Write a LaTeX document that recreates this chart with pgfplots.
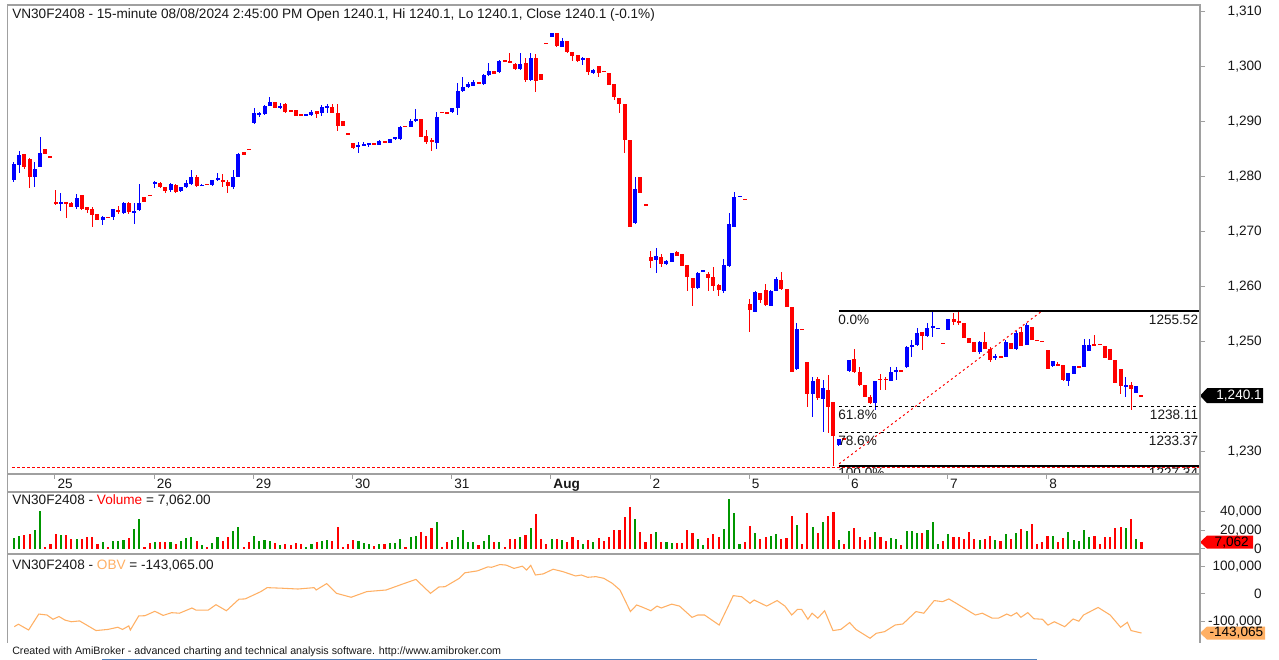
\documentclass[border=0pt]{standalone}
\usepackage{pgfplots}
\pgfplotsset{compat=1.18}
\usepackage{pgfplotstable}
\usepackage{fontspec}
\setmainfont{Liberation Sans}
\definecolor{cblue}{RGB}{0,0,255}
\definecolor{cred}{RGB}{255,0,0}
\definecolor{vgreen}{RGB}{0,150,0}
\definecolor{vred}{RGB}{255,0,0}
\definecolor{obvc}{RGB}{255,176,100}
\definecolor{frame}{RGB}{160,160,160}
\definecolor{txt}{RGB}{25,25,25}
\definecolor{steel}{RGB}{79,129,189}
\newcommand\lab{\fontsize{10.2pt}{12pt}\selectfont}

\pgfplotstableread{
i o h l c
-8 1279.4 1282.7 1279.1 1282.4
-7 1282.1 1284.6 1280.6 1283.95
-6 1284.1 1284.1 1281.5 1281.8
-5 1283.2 1283.35 1277.9 1280.0
-4 1279.9 1282.7 1278.2 1281.5
-3 1281.8 1287.3 1281.7 1284.3
-2 1285.0 1285.0 1284.1 1284.1
-1 1283.6 1283.6 1283.6 1283.6
0 1275.45 1277.6 1274.8 1275.0
1 1275.0 1277.0 1273.8 1275.45
2 1275.45 1275.45 1272.4 1275.1
3 1275.15 1275.45 1274.4 1274.5
4 1274.4 1276.85 1274.05 1276.05
5 1276.65 1276.65 1274.0 1274.2
6 1274.4 1274.5 1273.3 1273.9
7 1274.2 1274.4 1270.8 1273.0
8 1273.2 1273.3 1272.1 1272.1
9 1272.2 1272.8 1271.2 1272.7
10 1272.6 1272.6 1272.6 1272.6
11 1272.6 1274.2 1272.1 1274.05
12 1273.9 1274.65 1273.3 1273.6
13 1273.45 1275.45 1273.3 1275.3
14 1275.3 1275.45 1273.3 1273.6
15 1273.5 1275.15 1271.4 1273.8
16 1273.9 1278.7 1273.8 1275.15
17 1276.25 1276.25 1275.45 1275.45
18 1276.65 1276.65 1276.65 1276.65
19 1278.65 1279.3 1277.9 1279.1
20 1278.9 1279.1 1277.9 1278.2
21 1278.1 1278.1 1277.0 1277.45
22 1277.6 1278.8 1277.3 1278.65
23 1278.5 1278.6 1277.1 1277.3
24 1277.45 1278.2 1277.3 1278.2
25 1278.1 1279.4 1277.9 1278.8
26 1278.65 1281.2 1278.5 1280.0
27 1280.0 1280.3 1278.2 1278.3
28 1278.4 1278.6 1278.3 1278.5
29 1278.65 1278.65 1278.65 1278.65
30 1278.5 1279.4 1278.3 1279.4
31 1279.5 1280.7 1279.3 1279.7
32 1279.4 1280.5 1278.2 1279.1
33 1279.1 1279.4 1277.1 1278.3
34 1278.1 1281.2 1277.7 1280.0
35 1280.0 1284.4 1279.9 1284.1
36 1284.5 1284.5 1284.0 1284.0
37 1285.0 1285.0 1285.0 1285.0
38 1289.85 1292.45 1289.7 1291.55
39 1291.3 1291.85 1290.8 1291.55
40 1291.4 1293.05 1291.2 1292.9
41 1292.9 1294.6 1292.8 1293.6
42 1293.6 1293.6 1292.5 1292.6
43 1292.6 1293.4 1292.4 1292.9
44 1293.25 1293.4 1291.7 1291.85
45 1292.15 1292.15 1291.7 1291.7
46 1292.15 1292.15 1291.05 1291.05
47 1291.4 1291.4 1291.2 1291.2
48 1291.2 1291.5 1291.1 1291.35
49 1291.3 1292.1 1291.1 1291.85
50 1291.95 1291.95 1290.6 1291.4
51 1291.55 1293.05 1291.05 1292.75
52 1292.6 1293.25 1291.55 1292.9
53 1292.75 1293.25 1291.55 1291.55
54 1291.55 1293.25 1288.4 1289.25
55 1290.2 1290.2 1289.25 1289.25
56 1287.8 1287.8 1287.8 1287.8
57 1286.2 1286.2 1285.0 1285.2
58 1285.4 1286.4 1284.3 1285.7
59 1285.7 1286.4 1285.5 1286.0
60 1285.9 1286.2 1285.4 1286.1
61 1286.1 1286.1 1285.9 1285.9
62 1285.8 1286.7 1285.7 1286.55
63 1286.6 1286.6 1286.2 1286.2
64 1286.2 1286.9 1286.1 1286.8
65 1286.8 1287.2 1286.7 1287.2
66 1286.8 1289.2 1286.7 1289.1
67 1289.2 1289.2 1289.2 1289.2
68 1289.1 1290.6 1289.0 1290.2
69 1290.2 1292.3 1290.0 1290.45
70 1290.45 1290.45 1287.2 1287.3
71 1287.4 1288.5 1286.0 1286.4
72 1286.7 1287.0 1284.75 1286.4
73 1286.1 1291.7 1285.0 1290.9
74 1291.8 1291.8 1291.7 1291.7
75 1291.7 1291.7 1291.7 1291.7
76 1291.8 1292.6 1291.7 1292.6
77 1292.45 1297.0 1291.2 1295.7
78 1295.7 1298.2 1295.5 1296.4
79 1296.3 1297.3 1296.1 1296.9
80 1296.6 1297.6 1296.5 1297.3
81 1297.3 1297.3 1297.0 1297.0
82 1296.9 1298.7 1296.7 1298.5
83 1298.5 1300.8 1298.3 1299.3
84 1299.3 1299.3 1298.8 1298.8
85 1299.1 1301.2 1298.9 1301.1
86 1301.1 1301.1 1301.1 1301.1
87 1301.1 1302.6 1300.65 1300.65
88 1300.5 1300.7 1299.4 1299.7
89 1299.7 1302.5 1299.4 1300.5
90 1300.8 1301.6 1297.3 1297.6
91 1297.6 1302.5 1297.5 1301.55
92 1301.7 1302.35 1295.5 1297.5
93 1298.7 1298.7 1297.6 1297.6
94 1304.3 1304.3 1304.3 1304.3
95 1305.5 1306.1 1305.5 1306.1
96 1306.1 1306.1 1303.7 1303.8
97 1303.7 1305.2 1303.6 1304.8
98 1304.8 1304.8 1302.6 1302.8
99 1302.8 1302.8 1301.0 1302.0
100 1302.2 1302.2 1300.9 1301.1
101 1301.3 1301.8 1300.3 1301.7
102 1301.7 1301.7 1298.5 1299.1
103 1298.8 1299.6 1298.7 1299.5
104 1300.2 1300.2 1298.2 1298.8
105 1299.2 1299.2 1299.2 1299.2
106 1298.95 1298.95 1296.7 1296.7
107 1296.9 1296.9 1294.0 1294.45
108 1294.4 1294.4 1291.55 1293.25
109 1293.2 1293.2 1284.3 1286.7
110 1286.7 1286.7 1270.9 1270.9
111 1271.5 1279.9 1271.4 1277.7
112 1279.9 1279.9 1277.1 1277.1
113 1274.9 1274.9 1274.9 1274.9
114 1265.3 1266.5 1263.3 1264.7
115 1264.8 1267.1 1262.4 1265.55
116 1265.45 1265.9 1263.6 1264.1
117 1264.1 1264.8 1264.0 1264.7
118 1264.55 1266.1 1264.5 1266.05
119 1266.2 1266.5 1265.5 1265.55
120 1265.9 1265.9 1263.7 1263.7
121 1263.9 1263.9 1259.2 1261.7
122 1261.5 1261.5 1256.45 1259.7
123 1259.7 1262.6 1259.6 1262.5
124 1262.85 1262.9 1262.85 1262.9
125 1262.3 1262.7 1259.2 1261.5
126 1261.8 1263.6 1259.2 1260.1
127 1260.3 1260.5 1258.3 1259.4
128 1259.1 1264.95 1258.9 1263.9
129 1263.7 1273.3 1263.6 1271.4
130 1270.9 1277.3 1270.8 1276.4
131 1276.35 1276.45 1276.35 1276.45
132 1275.9 1275.9 1275.9 1275.9
133 1256.9 1257.8 1251.7 1255.8
134 1255.4 1259.1 1255.3 1259.05
135 1258.85 1258.85 1257.0 1257.5
136 1259.35 1260.5 1256.5 1256.6
137 1256.45 1259.3 1256.4 1259.25
138 1259.25 1261.8 1259.2 1261.3
139 1261.2 1262.7 1259.4 1259.5
140 1259.5 1259.5 1256.2 1256.2
141 1256.2 1256.2 1244.5 1244.5
142 1244.9 1253.3 1244.8 1252.2
143 1252.2 1252.2 1252.2 1252.2
144 1246.3 1246.3 1238.1 1240.5
145 1240.5 1243.6 1236.3 1242.7
146 1243.1 1243.6 1239.3 1239.6
147 1239.6 1242.95 1233.55 1241.45
148 1241.1 1243.9 1233.25 1238.1
149 1239.0 1239.0 1227.34 1232.8
150 1231.1 1232.3 1231.0 1232.3
151 1232.3 1232.3 1232.3 1232.3
152 1244.7 1246.7 1244.5 1246.6
153 1246.85 1248.7 1244.2 1244.5
154 1244.5 1245.4 1241.9 1242.05
155 1242.05 1242.05 1239.8 1239.9
156 1239.9 1240.2 1238.6 1238.7
157 1238.7 1242.85 1237.5 1242.85
158 1243.2 1244.1 1241.1 1242.95
159 1243.2 1243.6 1241.1 1242.95
160 1242.85 1245.4 1242.7 1244.5
161 1244.5 1245.4 1242.9 1244.7
162 1244.7 1244.7 1244.7 1244.7
163 1245.3 1249.2 1245.2 1249.05
164 1249.05 1250.25 1247.2 1249.35
165 1249.35 1252.4 1249.2 1251.45
166 1251.8 1251.8 1248.4 1251.0
167 1250.9 1253.4 1250.8 1252.4
168 1252.6 1255.5 1250.9 1252.7
169 1252.35 1252.4 1252.35 1252.4
170 1249.65 1249.65 1249.65 1249.65
171 1252.1 1254.1 1252.0 1254.0
172 1254.0 1255.1 1253.0 1253.6
173 1253.8 1255.5 1253.0 1253.3
174 1253.3 1253.3 1250.7 1250.7
175 1250.7 1250.7 1249.65 1249.65
176 1249.95 1249.95 1248.1 1248.1
177 1248.1 1250.0 1247.8 1249.95
178 1249.95 1251.8 1248.6 1248.7
179 1248.7 1249.0 1246.3 1246.6
180 1246.9 1247.7 1246.6 1247.3
181 1247.3 1247.3 1247.0 1247.0
182 1247.2 1250.25 1247.1 1249.95
183 1249.65 1249.65 1248.55 1248.55
184 1248.55 1251.95 1248.4 1251.6
185 1251.8 1252.7 1249.1 1249.2
186 1249.35 1253.3 1249.3 1253.0
187 1252.6 1252.6 1250.25 1250.25
188 1250.3 1250.3 1250.1 1250.1
189 1250.0 1250.0 1250.0 1250.0
190 1248.4 1248.4 1244.9 1244.9
191 1245.5 1246.5 1245.4 1246.4
192 1245.85 1246.2 1245.7 1245.7
193 1245.7 1245.7 1242.85 1242.95
194 1242.85 1244.3 1241.9 1244.2
195 1244.1 1245.6 1244.0 1245.5
196 1245.5 1245.5 1245.3 1245.3
197 1245.3 1250.4 1245.3 1249.35
198 1248.3 1250.4 1248.2 1249.35
199 1249.5 1251.2 1249.2 1249.2
200 1249.5 1249.5 1249.5 1249.5
201 1249.2 1249.2 1246.9 1246.9
202 1248.7 1248.7 1246.6 1246.7
203 1246.6 1246.6 1242.5 1242.5
204 1244.9 1244.9 1240.5 1241.9
205 1241.8 1243.45 1239.8 1242.1
206 1242.05 1242.65 1237.6 1241.3
207 1240.7 1241.9 1240.6 1241.9
208 1240.1 1240.1 1240.1 1240.1
}\candles

\pgfplotstableread{
i v u
-8 11.5 1
-7 14.1 1
-6 14.8 0
-5 15.9 0
-4 20.2 1
-3 40.4 1
-2 2 0
-1 5.1 0
0 15.9 0
1 15.1 1
2 15.1 0
3 10.5 0
4 10.5 1
5 10.8 0
6 13.0 0
7 13.0 0
8 5.1 0
9 6.9 1
10 1.5 0
11 8.7 1
12 8.7 1
13 9.8 1
14 11.2 0
15 21.3 1
16 32.1 1
17 1.5 0
18 5.8 0
19 7.6 1
20 7.6 0
21 7.6 0
22 7.6 1
23 5.1 0
24 8.7 1
25 11.2 1
26 13.0 1
27 8.7 0
28 4.4 1
29 1.5 0
30 5.8 1
31 12.3 1
32 8.7 0
33 12.3 0
34 18.8 1
35 23.8 1
36 1.5 0
37 6.9 0
38 14.1 1
39 8.7 1
40 9.4 1
41 8.7 1
42 5.8 0
43 4.4 1
44 5.1 0
45 4.4 0
46 5.8 0
47 5.1 0
48 1.5 1
49 5.1 1
50 7.6 0
51 8.7 1
52 9.4 1
53 8.7 0
54 23.8 0
55 1.5 0
56 5.1 0
57 9.4 0
58 8.7 1
59 5.8 1
60 5.1 1
61 3.3 0
62 5.1 1
63 5.1 0
64 5.8 1
65 5.8 1
66 10.5 1
67 1.5 0
68 12.3 1
69 14.1 1
70 17.7 0
71 14.1 0
72 22.4 0
73 28.5 1
74 1.5 0
75 7.6 0
76 9.4 1
77 13.0 1
78 20.2 1
79 6.9 1
80 6.9 1
81 4.4 0
82 8.7 1
83 15.1 1
84 6.9 0
85 6.9 1
86 1.5 0
87 10.5 0
88 10.5 0
89 12.3 1
90 15.1 0
91 22 1
92 37.5 0
93 10 0
94 5 0
95 10.1 1
96 10.1 0
97 9.4 1
98 6.8 0
99 12.6 0
100 9.4 0
101 5 1
102 9.4 0
103 7.6 1
104 11.5 0
105 8 0
106 13 0
107 20 0
108 20.2 0
109 34.6 0
110 45.3 0
111 31.7 1
112 18 0
113 6.8 0
114 15.5 0
115 17.7 1
116 6.8 0
117 6.8 1
118 5.8 1
119 5.8 0
120 5.8 0
121 20.2 0
122 16.6 0
123 10.1 1
124 4 1
125 11.2 0
126 15.9 0
127 13 0
128 20.9 1
129 53.3 1
130 38.2 1
131 5 1
132 6.8 0
133 24.9 0
134 16.6 1
135 10.5 0
136 13 0
137 13.7 1
138 15.5 1
139 10.1 0
140 12 0
141 35.3 0
142 25.6 1
143 5 0
144 38.9 0
145 23 1
146 16.6 0
147 28.5 1
148 35.3 0
149 40 0
150 9.4 1
151 5 0
152 19.5 1
153 22 0
154 13 0
155 9.4 0
156 13 0
157 18.4 1
158 13 0
159 8.6 0
160 12 1
161 10.5 1
162 4 0
163 19.5 1
164 18.7 1
165 16.6 1
166 16.6 0
167 20.2 1
168 29.2 1
169 5 1
170 8.6 0
171 15.5 1
172 13 0
173 13 0
174 10.1 0
175 17.7 0
176 10.1 0
177 9.4 1
178 10.1 0
179 14 0
180 9.4 1
181 8 0
182 15.5 1
183 10.5 0
184 16.6 1
185 20.9 0
186 19.1 1
187 26.3 0
188 5 0
189 6.8 0
190 14 0
191 14 1
192 6.8 0
193 11.9 0
194 17.7 1
195 9.4 1
196 8.6 1
197 20.2 1
198 13 1
199 14 0
200 5 0
201 13 0
202 13 0
203 22 0
204 23.8 0
205 22 1
206 31.7 0
207 10 1
208 7.062 0
}\vol

\pgfplotsset{ami/.style={scale only axis, width=894pt, xmin=-9.138, xmax=219.215,
  axis x line=none, axis y line*=right, y axis line style={draw=frame, line width=0.9pt},
  yticklabels={}, tick align=outside, major tick length=3.75pt,
  ytick style={draw=frame, line width=0.75pt}, clip=false},
  bars/.style 2 args={draw=none, mark=none, error bars/.cd, y dir=both, y explicit, error mark=none,
  error bar style={line width=#1, draw=#2}}}
\tikzset{tl/.style={anchor=east, inner sep=0pt, xshift=46.5pt}}

\begin{document}
\begin{tikzpicture}[font=\lab, text=txt]
\fill[white] (0,0) rectangle (959.25pt,495pt);

% ---------------- price pane
\begin{axis}[ami, at={(6pt,126pt)}, anchor=south west, height=365.25pt,
  ymin=1222.568, ymax=1311.275, ytick={1230,1250,1260,1270,1280,1290,1300,1310}]
\addplot[cred, line width=0.75pt, dash pattern=on 2.25pt off 1.5pt] coordinates {(-8.37,1227.1) (219.215,1227.1)};
% wicks
\addplot[bars={0.75pt}{cblue}]
  table[x=i, y expr={\thisrow{c}>\thisrow{o} ? (\thisrow{h}+\thisrow{l})/2 : nan}, y error expr={(\thisrow{h}-\thisrow{l})/2}] {\candles};
\addplot[bars={0.75pt}{cred}]
  table[x=i, y expr={\thisrow{c}>\thisrow{o} ? nan : (\thisrow{h}+\thisrow{l})/2}, y error expr={(\thisrow{h}-\thisrow{l})/2}] {\candles};
% bodies
\addplot[bars={3pt}{cblue}]
  table[x=i, y expr={\thisrow{c}>\thisrow{o} ? (\thisrow{o}+\thisrow{c})/2 : nan}, y error expr={max(abs(\thisrow{c}-\thisrow{o})/2,0.09)}] {\candles};
\addplot[bars={3pt}{cred}]
  table[x=i, y expr={\thisrow{c}>\thisrow{o} ? nan : (\thisrow{o}+\thisrow{c})/2}, y error expr={max(abs(\thisrow{c}-\thisrow{o})/2,0.09)}] {\candles};
% fibonacci
\addplot[black, line width=1.5pt] coordinates {(150.06,1255.52) (219.215,1255.52)};
\addplot[black, line width=0.75pt, dash pattern=on 2.25pt off 2.25pt] coordinates {(150.06,1238.11) (219.215,1238.11)};
\addplot[black, line width=0.75pt, dash pattern=on 2.25pt off 2.25pt] coordinates {(150.06,1233.37) (219.215,1233.37)};
\addplot[black, line width=1.5pt] coordinates {(150.06,1227.34) (219.215,1227.34)};
\addplot[cred, line width=0.75pt, dash pattern=on 1.5pt off 2.25pt] coordinates {(150.1,1227.7) (188.9,1255.5)};
\node[anchor=north west, inner sep=0pt, yshift=-2.6pt] at (axis cs:149.87,1255.52) {0.0\%};
\node[anchor=north west, inner sep=0pt, yshift=-2.6pt] at (axis cs:149.87,1238.11) {61.8\%};
\node[anchor=north west, inner sep=0pt, yshift=-2.6pt] at (axis cs:149.87,1233.37) {78.6\%};
\node[anchor=north east, inner sep=0pt, yshift=-2.6pt] at (axis cs:218.9,1255.52) {1255.52};
\node[anchor=north east, inner sep=0pt, yshift=-2.6pt] at (axis cs:218.9,1238.11) {1238.11};
\node[anchor=north east, inner sep=0pt, yshift=-2.6pt] at (axis cs:218.9,1233.37) {1233.37};
\begin{scope}
\clip (axis cs:140,1225.9) rectangle (axis cs:219.215,1230);
\node[anchor=north west, inner sep=0pt, yshift=-1.2pt] at (axis cs:149.87,1227.34) {100.0\%};
\node[anchor=north east, inner sep=0pt, yshift=-1.2pt] at (axis cs:218.9,1227.34) {1227.34};
\end{scope}
% date strip
\draw[frame, line width=0.9pt] (axis cs:-9.138,1225.85) -- (axis cs:219.215,1225.85);
\draw[frame, line width=0.75pt] (axis cs:-0.15,1225.85) -- (axis cs:-0.15,1224.9);
\draw[frame, line width=0.75pt] (axis cs:18.85,1225.85) -- (axis cs:18.85,1224.9);
\draw[frame, line width=0.75pt] (axis cs:37.85,1225.85) -- (axis cs:37.85,1224.9);
\draw[frame, line width=0.75pt] (axis cs:56.85,1225.85) -- (axis cs:56.85,1224.9);
\draw[frame, line width=0.75pt] (axis cs:75.85,1225.85) -- (axis cs:75.85,1224.9);
\draw[frame, line width=0.75pt] (axis cs:94.85,1225.85) -- (axis cs:94.85,1224.9);
\draw[frame, line width=0.75pt] (axis cs:113.85,1225.85) -- (axis cs:113.85,1224.9);
\draw[frame, line width=0.75pt] (axis cs:132.85,1225.85) -- (axis cs:132.85,1224.9);
\draw[frame, line width=0.75pt] (axis cs:151.85,1225.85) -- (axis cs:151.85,1224.9);
\draw[frame, line width=0.75pt] (axis cs:170.85,1225.85) -- (axis cs:170.85,1224.9);
\draw[frame, line width=0.75pt] (axis cs:189.85,1225.85) -- (axis cs:189.85,1224.9);
\node[anchor=base west, inner sep=0pt, xshift=1.8pt] at (axis cs:-0.15,1223.2) {25};
\node[anchor=base west, inner sep=0pt, xshift=1.8pt] at (axis cs:18.85,1223.2) {26};
\node[anchor=base west, inner sep=0pt, xshift=1.8pt] at (axis cs:37.85,1223.2) {29};
\node[anchor=base west, inner sep=0pt, xshift=1.8pt] at (axis cs:56.85,1223.2) {30};
\node[anchor=base west, inner sep=0pt, xshift=1.8pt] at (axis cs:75.85,1223.2) {31};
\node[anchor=base west, inner sep=0pt, xshift=1.8pt] at (axis cs:94.85,1223.2) {\textbf{Aug}};
\node[anchor=base west, inner sep=0pt, xshift=1.8pt] at (axis cs:113.85,1223.2) {2};
\node[anchor=base west, inner sep=0pt, xshift=1.8pt] at (axis cs:132.85,1223.2) {5};
\node[anchor=base west, inner sep=0pt, xshift=1.8pt] at (axis cs:151.85,1223.2) {6};
\node[anchor=base west, inner sep=0pt, xshift=1.8pt] at (axis cs:170.85,1223.2) {7};
\node[anchor=base west, inner sep=0pt, xshift=1.8pt] at (axis cs:189.85,1223.2) {8};
% tick labels
\node[tl] at (axis cs:219.215,1310) {1,310};
\node[tl] at (axis cs:219.215,1300) {1,300};
\node[tl] at (axis cs:219.215,1290) {1,290};
\node[tl] at (axis cs:219.215,1280) {1,280};
\node[tl] at (axis cs:219.215,1270) {1,270};
\node[tl] at (axis cs:219.215,1260) {1,260};
\node[tl] at (axis cs:219.215,1250) {1,250};
\node[tl] at (axis cs:219.215,1230) {1,230};
\coordinate (pm) at (axis cs:219.215,1240.1);
\end{axis}

% ---------------- volume pane
\begin{axis}[ami, at={(6pt,79.5pt)}, anchor=south west, height=46.5pt,
  ymin=-5.730, ymax=61.297, ytick={0,20,40}]
\addplot[bars={1.6pt}{vgreen}]
  table[x=i, y expr={\thisrow{u}>0.5 ? \thisrow{v}/2 : nan}, y error expr={\thisrow{v}/2}] {\vol};
\addplot[bars={1.6pt}{vred}]
  table[x=i, y expr={\thisrow{u}>0.5 ? nan : \thisrow{v}/2}, y error expr={\thisrow{v}/2}] {\vol};
\node[tl] at (axis cs:219.215,40) {40,000};
\node[tl] at (axis cs:219.215,20) {20,000};
\node[tl] at (axis cs:219.215,0) {0};
\coordinate (vm) at (axis cs:219.215,7.062);
\end{axis}

% ---------------- OBV pane
\begin{axis}[ami, at={(6pt,12.75pt)}, anchor=south west, height=66.75pt,
  ymin=-179.27, ymax=144.36, ytick={-100,0,100}]
\addplot[obvc, line width=0.8pt] coordinates {
(-7.93,-120) (-7.15,-111) (-5.19,-132) (-3.24,-74) (-1.67,-77.5) (-0.52,-93) (0.63,-83)
(1.78,-96) (3.0,-102) (4.58,-99) (7.72,-134) (10.0,-130) (11.9,-122) (12.8,-130) (14.0,-117)
(14.3,-132) (15.9,-81) (17.1,-80) (19.0,-64) (20.6,-79) (22.2,-69) (23.7,-71) (26.1,-52)
(26.9,-60) (29.2,-60) (30.7,-40) (32.7,-62) (35.1,-20) (36.3,-19) (39.3,7.6) (40.5,22)
(43.3,20) (46.4,17) (49.5,22) (49.9,13.5) (51.9,36.6) (53.8,1.3) (56.6,-13) (59.6,7.6)
(63.3,13.5) (66.3,34) (69.0,52) (71.8,1.3) (73.4,24.3) (74.6,25.5) (77.3,55.7) (78.4,76)
(80.8,83) (82.8,97.6) (83.5,96) (85.1,106) (86.3,104) (87.8,92) (89.4,100) (90.2,86)
(91.0,103) (91.9,68) (93.4,72) (95.3,89) (97.2,80) (99.6,64.5) (100.7,68) (101.9,59.6)
(103.5,62) (105.0,56) (106.6,38) (108.1,13.5) (110.1,-65) (111.3,-41) (112.4,-49) (114.0,-62)
(115.2,-45) (116.0,-52) (118.0,-38) (119.5,-45) (121.9,-86) (123.0,-77.5) (124.3,-77.5)
(127.1,-114) (129.8,-7) (131.4,-11) (133.0,-35) (133.8,-23) (136.2,-45) (138.2,-25)
(139.7,-45) (141.0,-77.5) (142.1,-57) (142.9,-57) (144.1,-93) (144.9,-71) (146.0,-89)
(147.3,-62) (148.9,-134) (150.4,-130) (152.1,-105) (153.3,-130) (156.0,-162) (157.2,-144)
(158.8,-138) (160.8,-114) (162.3,-110) (164.8,-65) (166.3,-71) (168.3,-25) (169.9,-29)
(171.1,-19) (172.7,-37) (175.1,-65) (176.2,-77.5) (177.5,-71) (179.4,-89) (180.6,-89)
(182.2,-74) (183.0,-81) (184.1,-69) (184.9,-86) (186.2,-69) (187.4,-91) (189.0,-93)
(190.1,-114) (191.3,-102) (193.3,-120) (194.9,-92) (196.0,-100) (196.9,-77.5) (199.7,-50)
(202.0,-77.5) (204.0,-122) (205.3,-104) (206.0,-134) (208.0,-143.065)};
\node[tl] at (axis cs:219.215,100) {100,000};
\node[tl] at (axis cs:219.215,0) {0};
\node[tl] at (axis cs:219.215,-100) {-100,000};
\coordinate (om) at (axis cs:219.215,-143.065);
\end{axis}

% value markers
\fill[black] (pm) -- ++(5.25pt,5.625pt) -- ++(42pt,0) -- ++(0,-11.25pt) -- ++(-42pt,0) -- cycle;
\node[anchor=east, inner sep=0pt, text=white] at ([xshift=46.5pt]pm) {1,240.1};
\fill[vred] (vm) -- ++(5.25pt,4.875pt) -- ++(34.5pt,0) -- ++(0,-9.75pt) -- ++(-34.5pt,0) -- cycle;
\node[anchor=east, inner sep=0pt, text=black] at ([xshift=36.75pt]vm) {7,062};
\fill[obvc] (om) -- ++(5.25pt,4.875pt) -- ++(43.5pt,0) -- ++(0,-9.75pt) -- ++(-43.5pt,0) -- cycle;
\node[anchor=east, inner sep=0pt, text=black] at ([xshift=47.6pt]om) {-143,065};

% frames and titles (pixel coordinates, origin top-left)
\begin{scope}[x=0.75pt, y=-0.75pt, shift={(0pt,495pt)}]
\draw[frame, line width=0.9pt] (7.5,643) -- (7.5,5) -- (1200,5) -- (1200,643);
\draw[frame, line width=0.9pt] (7.5,492) -- (1200,492);
\draw[frame, line width=0.9pt] (7.5,554) -- (1200,554);
\node[anchor=base west, inner sep=0pt] at (12,19) {VN30F2408 - 15-minute 08/08/2024 2:45:00 PM Open 1240.1, Hi 1240.1, Lo 1240.1, Close 1240.1 (-0.1\%)};
\node[anchor=base west, inner sep=0pt] at (12,505) {VN30F2408 - \textcolor{vred}{Volume} = 7,062.00};
\node[anchor=base west, inner sep=0pt] at (12,570) {VN30F2408 - \textcolor{obvc}{OBV} = -143,065.00};
\node[anchor=base west, inner sep=0pt, font=\fontsize{8pt}{9.6pt}\selectfont] at (12,655) {Created with AmiBroker - advanced charting and technical analysis software. http://www.amibroker.com};
\draw[steel, line width=0.75pt] (102,659.5) -- (1037,659.5);
\end{scope}
\end{tikzpicture}
\end{document}
